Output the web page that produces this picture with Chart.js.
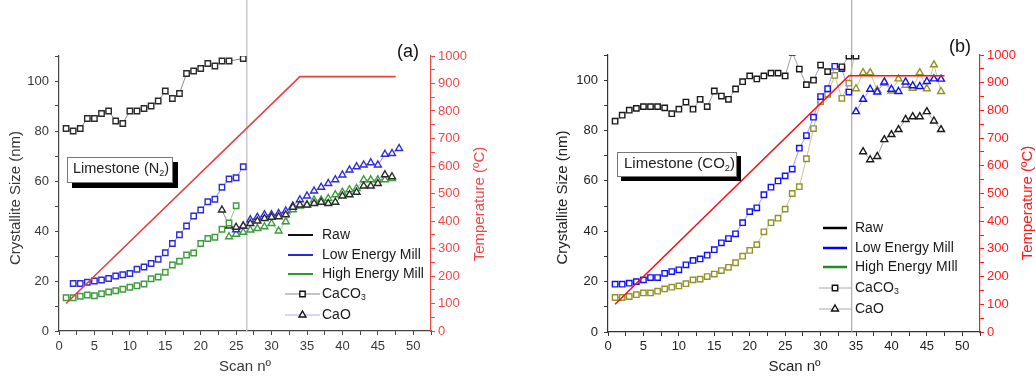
<!DOCTYPE html>
<html>
<head>
<meta charset="utf-8">
<script src="https://cdn.jsdelivr.net/npm/chart.js@4.4.1/dist/chart.umd.min.js"></script>
<style>
html,body{margin:0;padding:0;background:#fff;width:1036px;height:376px;overflow:hidden;}
#wrap{position:relative;width:1036px;height:376px;}
canvas{position:absolute;top:0;}
</style>
</head>
<body>
<div id="wrap">
<canvas id="chartA" width="518" height="376" style="left:0px"></canvas>
<canvas id="chartB" width="518" height="376" style="left:518px"></canvas>
</div>
<script>
const FONT = '"Liberation Sans", Arial, Helvetica, sans-serif';

// ---------- shared tick labels & texts ----------
const xTickLabels = [0,5,10,15,20,25,30,35,40,45,50];
const sizeTickLabels = [0,20,40,60,80,100];
const tempTickLabels = [0,100,200,300,400,500,600,700,800,900,1000];
const sizeTitle = 'Crystallite Size (nm)';
const tempTitle = 'Temperature (ºC)';
const scanTitle = 'Scan nº';
const legendLabelsA = ['Raw','Low Energy Mill','High Energy Mill','CaCO','CaO'];
const legendLabelsB = ['Raw','Low Energy Mill','High Energy MIll','CaCO','CaO'];

// ---------- Panel (a): Limestone (N2) ----------
const scansA_CaCO3_raw  = [1,2,3,4,5,6,7,8,9,10,11,12,13,14,15,16,17,18,19,20,21,22,23,24,26];
const sizeA_CaCO3_raw   = [81,80,81,85,85,87,88,84,83,88,88,89,90,92,96,93,95,103,104,105,107,106,108,108,109];
const scansA_CaCO3_low  = [2,3,4,5,6,7,8,9,10,11,12,13,14,15,16,17,18,19,20,21,22,23,24,25,26];
const sizeA_CaCO3_low   = [19,19,19.5,20,20.4,21,22,22.5,23,24.7,25.6,27,28.7,31.3,35,38.5,42,46,48.4,51.7,52.7,57.5,60.8,61.3,65.7];
const scansA_CaCO3_high = [1,2,3,4,5,6,7,8,9,10,11,12,13,14,15,16,17,18,19,20,21,22,23,24,25];
const sizeA_CaCO3_high  = [13.3,13.3,13.9,14.4,14.1,14.9,15.6,16.1,16.7,17.5,18.1,18.8,20.9,21.6,23.5,26.4,27.9,30.4,31.2,35,37,37.5,40.7,43.2,50.1];
const scansA_CaO_raw    = [23,24,25,26,27,28,29,30,31,32,33,34,35,36,37,38,39,40,41,42,43,44,45,46,47];
const sizeA_CaO_raw     = [48.4,42,41.5,42,43,44,45,45.5,45.7,46.5,49.5,50.4,50.4,51,51.5,51,51.5,54,54.5,55.5,58,58,59,62.5,61.7];
const scansA_CaO_low    = [25,26,27,28,29,30,31,32,33,34,35,36,37,38,39,40,41,42,43,44,45,46,47,48];
const sizeA_CaO_low     = [40.5,42,44.5,45.5,46.5,46.5,47,48,50,52.5,54,56,57.5,59,60.5,62.4,64.4,65.7,66.4,67.3,66.4,70.7,71,73];
const scansA_CaO_high   = [24,25,26,27,28,29,30,31,32,33,34,35,36,37,38,39,40,41,42,43,44,45,46,47];
const sizeA_CaO_high    = [37.7,38.7,39.5,40.4,41,41.7,43,40,43.7,48.5,50,50.5,52.4,52.4,53,54.5,55.5,56.5,57,60.5,60.5,60.5,60.5,61];
const scansA_temp = [1,34,47.5];
const tempA       = [100,925,925];
const markerScanA = 26.5;

// ---------- Panel (b): Limestone (CO2) ----------
const scansB_CaCO3_raw  = [1,2,3,4,5,6,7,8,9,10,11,12,13,14,15,16,17,18,19,20,21,22,23,24,25,26,27,28,29,30,31,33,34,35];
const sizeB_CaCO3_raw   = [83.7,86.1,88.1,88.8,89.5,89.5,89.5,89,86.7,88.5,91.3,88.5,92.4,89.5,95.7,93.7,92.4,96.5,99.4,101.7,100.5,101.7,102.8,102.8,101.7,111,104.4,98.2,100,106,103.4,105.3,109.6,109.6];
const scansB_CaCO3_low  = [1,2,3,4,5,6,7,8,9,10,11,12,13,14,15,16,17,18,19,20,21,22,23,24,25,26,27,28,29,30,31,32,33,34];
const sizeB_CaCO3_low   = [19,19,19.4,20,20.7,21.6,21.6,23.3,24,24.7,26.7,28.4,29,30.5,32.7,35.4,37.1,39,43.4,47.8,49.3,54.5,57.5,60,62,64.7,73,78,85.3,93.5,96.6,105.5,104.6,95.3];
const scansB_CaCO3_high = [1,2,3,4,5,6,7,8,9,10,11,12,13,14,15,16,17,18,19,20,21,22,23,24,25,26,27,28,29,30,31,32,33,34,35];
const sizeB_CaCO3_high  = [13.7,13.7,14.1,14.8,15.5,15.5,16.2,17.1,17.8,18.3,19.2,20.7,21,22,23,24.4,25.7,27.5,30.1,32.4,34.7,39.8,43.4,45.2,48.8,55,57.7,68.8,80.8,91.5,94.4,101.9,92.8,98.8,113];
const scansB_CaO_raw    = [36,37,38,39,40,41,42,43,44,45,46,47];
const sizeB_CaO_raw     = [71.6,68.4,69.7,76.4,78.4,80.4,84.4,85.5,85.5,87.5,83.8,80.4];
const scansB_CaO_low    = [35,36,37,38,39,40,41,42,43,44,45,46,47];
const sizeB_CaO_low     = [87.5,92.4,96.4,95.3,99.3,96.4,95.5,99.3,97.8,97.5,99.5,100.5,100.4];
const scansB_CaO_high   = [35,36,37,38,39,40,41,42,43,44,45,46,47];
const sizeB_CaO_high    = [96.6,103,103,96,98.8,95.7,100.5,98,96.8,103,96.6,106.1,95.5];
const scansB_temp = [1,34,47.5];
const tempB       = [100,925,925];
const markerScanB = 34.4;

// ---------- helpers ----------
function pts(xs, ys){ return xs.map((x,i)=>({x:x, y:ys[i]})); }

function markerDS(xs, ys, color, lineColor, style, radius){
  return {data: pts(xs,ys), yAxisID:'y', showLine:true, borderColor:lineColor, borderWidth:1,
    pointStyle:style, pointRadius:radius, pointBorderColor:color, pointBackgroundColor:'#fff',
    pointBorderWidth:1.4, spanGaps:true, order:1};
}

function drawRich(ctx, parts, x, y, size, color){
  ctx.fillStyle = color;
  ctx.textBaseline = 'middle';
  ctx.textAlign = 'left';
  let cx = x;
  parts.forEach(p=>{
    if (p[1]) {
      ctx.font = (size*0.62).toFixed(1)+'px '+FONT;
      ctx.fillText(p[0], cx, y + size*0.28);
    } else {
      ctx.font = size+'px '+FONT;
      ctx.fillText(p[0], cx, y);
    }
    cx += ctx.measureText(p[0]).width;
  });
}

function rotText(ctx, txt, x, y, size, color){
  ctx.save();
  ctx.translate(x, y);
  ctx.rotate(-Math.PI/2);
  ctx.font = size+'px '+FONT;
  ctx.fillStyle = color;
  ctx.textAlign = 'center';
  ctx.textBaseline = 'middle';
  ctx.fillText(txt, 0, 0);
  ctx.restore();
}

function drawMarker(ctx, style, x, y){
  ctx.beginPath();
  if (style === 'rect') {
    ctx.rect(x-2.7, y-2.7, 5.4, 5.4);
  } else {
    const r = 4;
    ctx.moveTo(x, y - r);
    ctx.lineTo(x + r*0.866, y + r*0.5);
    ctx.lineTo(x - r*0.866, y + r*0.5);
    ctx.closePath();
  }
  ctx.fillStyle = '#fff';
  ctx.fill();
  ctx.lineWidth = 1.4;
  ctx.strokeStyle = '#111';
  ctx.stroke();
}

function decor(d){
  return {
    id: 'decor',
    afterDraw(chart){
      const ctx = chart.ctx;
      ctx.save();
      // axis titles
      rotText(ctx, sizeTitle, d.yTitle[0], d.yTitle[1], 15, d.textColor);
      rotText(ctx, tempTitle, d.tTitle[0], d.tTitle[1], 15, d.red);
      ctx.font = '15px '+FONT; ctx.fillStyle = d.textColor;
      ctx.textAlign = 'center'; ctx.textBaseline = 'middle';
      ctx.fillText(scanTitle, d.xTitle[0], d.xTitle[1]);
      // panel letter
      ctx.font = '18px '+FONT; ctx.fillStyle = '#111';
      ctx.fillText(d.panel[0], d.panel[1], d.panel[2]);
      // label box with shadow
      const b = d.box;
      ctx.fillStyle = '#000';
      ctx.fillRect(b.x + b.sh, b.y + b.sh, b.w, b.h);
      ctx.fillStyle = '#fff';
      ctx.fillRect(b.x, b.y, b.w, b.h);
      ctx.strokeStyle = '#777'; ctx.lineWidth = 1;
      ctx.strokeRect(b.x+0.5, b.y+0.5, b.w-1, b.h-1);
      drawRich(ctx, b.parts, b.tx, b.ty, b.size, '#222');
      // legend
      const L = d.legend;
      for (let i=0;i<3;i++){
        ctx.beginPath();
        ctx.strokeStyle = L.lineColors[i]; ctx.lineWidth = L.lw;
        ctx.moveTo(L.l0, L.ys[i]); ctx.lineTo(L.l1, L.ys[i]); ctx.stroke();
      }
      const styles = ['rect','triangle'];
      for (let k=0;k<2;k++){
        const yy = L.ys[3+k];
        ctx.beginPath();
        ctx.strokeStyle = L.mLineColors[k]; ctx.lineWidth = 1;
        ctx.moveTo(L.m0, yy); ctx.lineTo(L.m1, yy); ctx.stroke();
        drawMarker(ctx, styles[k], L.mx, yy);
      }
      for (let i=0;i<5;i++){
        const parts = (i===3) ? [[d.labels[i],0],['3',1]] : [[d.labels[i],0]];
        drawRich(ctx, parts, L.tx, L.ys[i], 14, '#1a1a1a');
      }
      ctx.restore();
    }
  };
}

function makeChart(id, c){
  const datasets = [
    {data: pts(c.tempScans, c.temps), yAxisID:'y2', showLine:true, borderColor:c.redLine, borderWidth:1.6, pointRadius:0, order:0},
    {data: [{x:c.marker,y:0},{x:c.marker,y:132.4}], yAxisID:'y', showLine:true, borderColor:c.markerColor, borderWidth:c.markerWidth, pointRadius:0, clip:false, order:5},
    markerDS(c.s[0][0], c.s[0][1], c.col.raw,  c.lc.raw,  'rect', 3.8),
    markerDS(c.s[1][0], c.s[1][1], c.col.low,  c.lc.low,  'rect', 3.8),
    markerDS(c.s[2][0], c.s[2][1], c.col.high, c.lc.high, 'rect', 3.8),
    markerDS(c.s[3][0], c.s[3][1], c.col.raw,  c.lc.raw,  'triangle', 4),
    markerDS(c.s[4][0], c.s[4][1], c.col.low,  c.lc.low,  'triangle', 4),
    markerDS(c.s[5][0], c.s[5][1], c.col.high, c.lc.high, 'triangle', 4)
  ];
  const tickFont = {family:FONT, size:13};
  return new Chart(document.getElementById(id), {
    type:'scatter',
    data:{datasets:datasets},
    options:{
      responsive:false, animation:false, events:[],
      layout:{padding:{left:c.padLeft, top:c.padTop, right:0, bottom:0}},
      plugins:{legend:{display:false}, tooltip:{enabled:false}},
      elements:{line:{tension:0}},
      scales:{
        x:{type:'linear', position:'bottom', min:0, max:52.5,
          ticks:{stepSize:2.5, includeBounds:false, autoSkip:false, maxRotation:0, minRotation:0,
                 padding:c.xPad, color:c.textColor, font:tickFont,
                 callback:v=> xTickLabels.includes(v) ? String(v) : ''},
          grid:{drawOnChartArea:false, drawTicks:true, tickLength:4, color:c.axisColor},
          border:{display:true, color:c.axisColor, width:1.2},
          afterFit:s=>{ s.height = c.xHeight; }},
        y:{type:'linear', position:'left', min:0, max:110,
          ticks:{stepSize:10, includeBounds:false, autoSkip:false, padding:6, color:c.textColor, font:tickFont,
                 callback:v=> sizeTickLabels.includes(v) ? String(v) : ''},
          grid:{drawOnChartArea:false, drawTicks:true, tickLength:4, color:c.axisColor},
          border:{display:true, color:c.axisColor, width:1.2},
          afterFit:s=>{ s.width = c.yWidth; }},
        y2:{type:'linear', position:'right', min:0, max:1000,
          ticks:{stepSize:50, includeBounds:false, autoSkip:false, padding:3, color:c.red, font:tickFont,
                 callback:v=> tempTickLabels.includes(v) ? String(v) : ''},
          grid:{drawOnChartArea:false, drawTicks:true, tickLength:4, color:c.red},
          border:{display:true, color:c.red, width:1.2},
          afterFit:s=>{ s.width = c.y2Width; }}
      }
    },
    plugins:[decor(c.decor)]
  });
}

makeChart('chartA', {
  tempScans: scansA_temp, temps: tempA, marker: markerScanA,
  s: [[scansA_CaCO3_raw,sizeA_CaCO3_raw],[scansA_CaCO3_low,sizeA_CaCO3_low],[scansA_CaCO3_high,sizeA_CaCO3_high],
      [scansA_CaO_raw,sizeA_CaO_raw],[scansA_CaO_low,sizeA_CaO_low],[scansA_CaO_high,sizeA_CaO_high]],
  col: {raw:'#2a2a2a', low:'#2b2bdc', high:'#3c9c3c'},
  lc:  {raw:'#8a8a8a', low:'#8c8cee', high:'#8ccc8c'},
  redLine:'#e84040', red:'#f04848', markerColor:'#c4c4c4', markerWidth:1.4,
  textColor:'#383838', axisColor:'#444',
  padLeft:0, padTop:56, yWidth:59, y2Width:87, xHeight:45, xPad:4,
  decor: {
    textColor:'#383838', red:'#f04848',
    yTitle:[16,198], tTitle:[480,204], xTitle:[245,367],
    panel:['(a)',408,52],
    box:{x:67,y:157,w:106,h:26,sh:5, parts:[['Limestone (N',0],['2',1],[')',0]], tx:73, ty:169, size:14.5},
    labels: legendLabelsA,
    legend:{l0:288,l1:313,m0:285,m1:320,mx:302.5,tx:322, lw:2, ys:[235,255,274,294,315],
            lineColors:['#111','#2a2ad8','#2e9a2e'], mLineColors:['#8a8a8a','#aaaae8']}
  }
});

makeChart('chartB', {
  tempScans: scansB_temp, temps: tempB, marker: markerScanB,
  s: [[scansB_CaCO3_raw,sizeB_CaCO3_raw],[scansB_CaCO3_low,sizeB_CaCO3_low],[scansB_CaCO3_high,sizeB_CaCO3_high],
      [scansB_CaO_raw,sizeB_CaO_raw],[scansB_CaO_low,sizeB_CaO_low],[scansB_CaO_high,sizeB_CaO_high]],
  col: {raw:'#1a1a1a', low:'#1010ff', high:'#929228'},
  lc:  {raw:'#a0a0a0', low:'#9a9aff', high:'#c6c68a'},
  redLine:'#ff1010', red:'#ff1a1a', markerColor:'#9a9a9a', markerWidth:1,
  textColor:'#222', axisColor:'#333',
  padLeft:30, padTop:55, yWidth:60, y2Width:56, xHeight:44, xPad:3,
  decor: {
    textColor:'#222', red:'#ff1a1a',
    yTitle:[45,197.5], tTitle:[510,203], xTitle:[276.5,367],
    panel:['(b)',442,47],
    box:{x:99,y:152,w:120,h:25,sh:4, parts:[['Limestone (CO',0],['2',1],[')',0]], tx:106, ty:164, size:15},
    labels: legendLabelsB,
    legend:{l0:305,l1:329,m0:301,m1:333,mx:317,tx:337, lw:2.5, ys:[228,248,267,288,309],
            lineColors:['#000','#0000ff','#228b22'], mLineColors:['#a8a8a8','#a8a8a8']}
  }
});
</script>
</body>
</html>
